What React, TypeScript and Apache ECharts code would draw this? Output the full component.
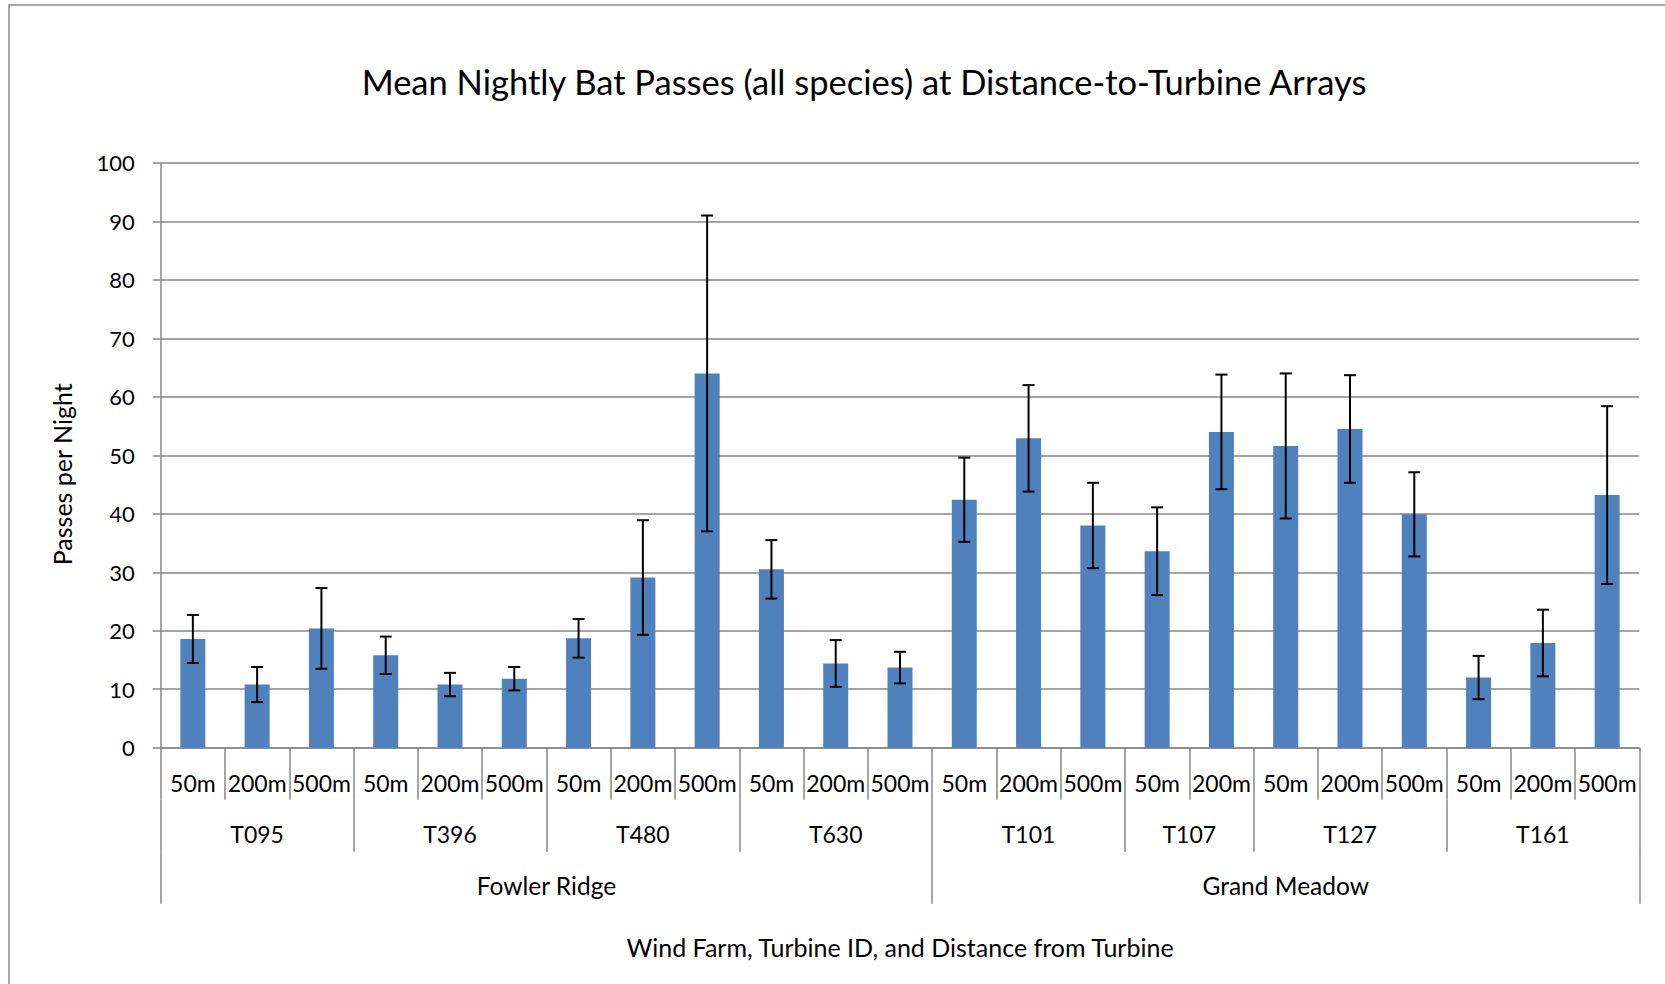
import React, { useEffect, useRef } from "react";
import * as echarts from "echarts";

// Distance-from-turbine category for each bar, left to right
const distances = [
  "50m", "200m", "500m",
  "50m", "200m", "500m",
  "50m", "200m", "500m",
  "50m", "200m", "500m",
  "50m", "200m", "500m",
  "50m", "200m",
  "50m", "200m", "500m",
  "50m", "200m", "500m",
];

// Turbine groups and how many distance bars each spans
const turbines = ["T095", "T396", "T480", "T630", "T101", "T107", "T127", "T161"];
const turbineSpans = [3, 3, 3, 3, 3, 2, 3, 3];

// Wind farms and how many bars each spans
const farms = ["Fowler Ridge", "Grand Meadow"];
const farmSpans = [12, 11];

// Mean nightly passes and the +/- error bar size
const meanPasses = [
  18.6, 10.8, 20.4,
  15.8, 10.8, 11.8,
  18.7, 29.1, 64.0,
  30.5, 14.4, 13.7,
  42.4, 52.9, 38.0,
  33.6, 54.0,
  51.6, 54.5, 39.9,
  12.0, 17.9, 43.2,
];
const errorPasses = [
  4.1, 3.0, 6.9,
  3.2, 2.0, 2.0,
  3.3, 9.8, 27.0,
  5.0, 4.0, 2.7,
  7.2, 9.1, 7.3,
  7.5, 9.8,
  12.4, 9.2, 7.2,
  3.7, 5.7, 15.2,
];

const yMin = 0;
const yMax = 100;
const yStep = 10;

const FONT = "Lato";
const GRID_COLOR = "#878787";
const BAR_COLOR = "#4F81BD";

// boundaries and centres of grouped spans, in bar-index units
function spanLayout(spans: number[]) {
  const bounds = [0];
  const centres: number[] = [];
  spans.forEach((s) => {
    const start = bounds[bounds.length - 1];
    centres.push(start + s / 2);
    bounds.push(start + s);
  });
  return { bounds, centres };
}

export default function App() {
  const ref = useRef<HTMLDivElement>(null);

  useEffect(() => {
    if (!ref.current) return;
    const chart = echarts.init(ref.current, undefined, { renderer: "svg" });

    const total = distances.length;
    const tLayout = spanLayout(turbineSpans);
    const fLayout = spanLayout(farmSpans);

    const lineStyle = { color: GRID_COLOR, width: 1.5 };

    const groupAxis = (
      offset: number,
      layout: { bounds: number[]; centres: number[] },
      names: string[],
      fontSize: number
    ) => ({
      type: "value",
      gridIndex: 0,
      position: "bottom",
      offset,
      min: 0,
      max: total,
      axisLine: { show: false },
      splitLine: { show: false },
      axisTick: {
        show: true,
        customValues: layout.bounds,
        length: 52,
        lineStyle,
      },
      axisLabel: {
        fontFamily: FONT,
        fontSize,
        color: "#000",
        customValues: layout.centres,
        margin: 34,
        verticalAlign: "middle",
        formatter: (v: number) => {
          const i = layout.centres.findIndex((c) => Math.abs(c - v) < 1e-6);
          return i >= 0 ? names[i] : "";
        },
      },
    });

    chart.setOption({
      animation: false,
      backgroundColor: "#fff",
      title: {
        text: "Mean Nightly Bat Passes (all species) at Distance-to-Turbine Arrays",
        left: 864,
        top: 61,
        textAlign: "center",
        padding: 0,
        textStyle: {
          fontFamily: FONT,
          fontSize: 34.5,
          fontWeight: "normal",
          color: "#000",
          lineHeight: 40,
        },
      },
      graphic: [
        {
          type: "rect",
          silent: true,
          shape: { x: 9, y: 5, width: 2000, height: 2000 },
          style: { fill: "none", stroke: "#8a8a8a", lineWidth: 1.5 },
        },
      ],
      grid: { left: 160.7, right: 25.7, top: 162.9, bottom: 236.3 },
      xAxis: [
        {
          type: "category",
          gridIndex: 0,
          position: "bottom",
          data: distances,
          axisLine: { show: true, lineStyle },
          axisTick: { show: true, interval: 0, length: 52, lineStyle },
          axisLabel: {
            fontFamily: FONT,
            fontSize: 23,
            color: "#000",
            interval: 0,
            margin: 35,
            verticalAlign: "middle",
          },
          name: "Wind Farm, Turbine ID, and Distance from Turbine",
          nameLocation: "middle",
          nameGap: 187,
          nameTextStyle: { fontFamily: FONT, fontSize: 25, color: "#000" },
        },
        groupAxis(52, tLayout, turbines, 23),
        groupAxis(104, fLayout, farms, 24.5),
      ],
      yAxis: {
        type: "value",
        min: yMin,
        max: yMax,
        interval: yStep,
        axisLine: { show: true, lineStyle },
        axisTick: { show: true, length: 8, lineStyle },
        axisLabel: { fontFamily: FONT, fontSize: 22, color: "#000", margin: 26 },
        splitLine: { show: true, lineStyle },
        name: "Passes per Night",
        nameLocation: "middle",
        nameGap: 86,
        nameTextStyle: {
          fontFamily: FONT,
          fontSize: 25,
          color: "#000",
          padding: [0, 38, 0, 0],
        },
      },
      series: [
        {
          type: "bar",
          xAxisIndex: 0,
          yAxisIndex: 0,
          data: meanPasses,
          barWidth: 25,
          itemStyle: { color: BAR_COLOR },
        },
        {
          type: "custom",
          xAxisIndex: 0,
          yAxisIndex: 0,
          z: 10,
          data: meanPasses.map((m, i) => [i, m - errorPasses[i], m + errorPasses[i]]),
          encode: { x: 0, y: [1, 2] },
          renderItem: (_params: any, api: any) => {
            const x = api.value(0);
            const lo = api.coord([x, api.value(1)]);
            const hi = api.coord([x, api.value(2)]);
            const half = 6;
            const style = { stroke: "#000", lineWidth: 2 };
            return {
              type: "group",
              children: [
                { type: "line", shape: { x1: hi[0], y1: hi[1], x2: lo[0], y2: lo[1] }, style },
                { type: "line", shape: { x1: hi[0] - half, y1: hi[1], x2: hi[0] + half, y2: hi[1] }, style },
                { type: "line", shape: { x1: lo[0] - half, y1: lo[1], x2: lo[0] + half, y2: lo[1] }, style },
              ],
            };
          },
        },
      ],
    });

    return () => chart.dispose();
  }, []);

  return (
    <div
      ref={ref}
      style={{ position: "fixed", left: 0, top: 0, width: 1665, height: 984, background: "#fff" }}
    />
  );
}
